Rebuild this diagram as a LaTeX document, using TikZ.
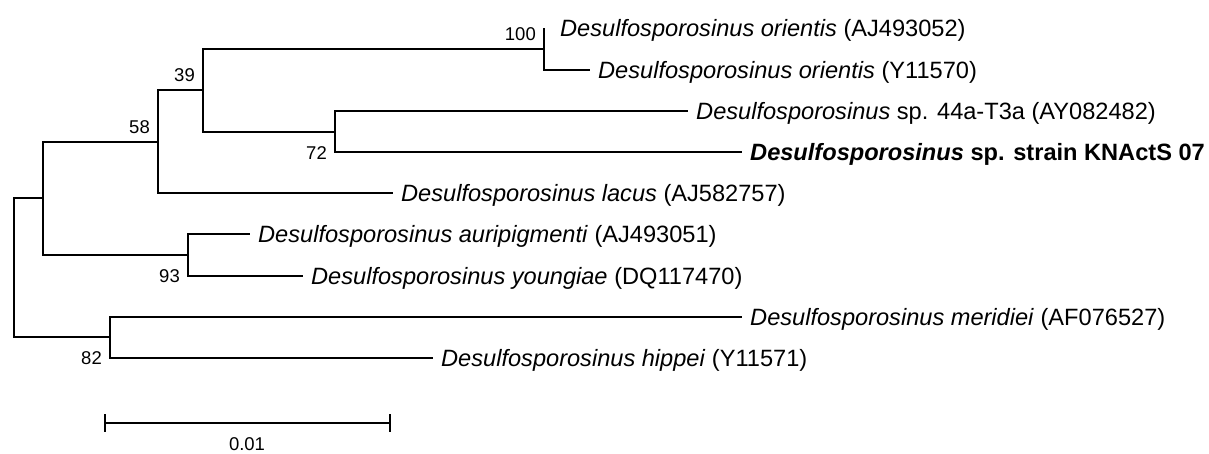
\documentclass[tikz,border=0pt]{standalone}
\usepackage{fontspec}
\setmainfont{Liberation Sans}
\usetikzlibrary{positioning}
\tikzset{
  branch/.style={line width=1.9pt},
  leaf/.style={anchor=base west, inner sep=0pt, xshift=8pt, yshift=-8pt, font=\fontsize{23.6}{28}\selectfont},
  boot/.style={anchor=base east, inner sep=0pt, font=\fontsize{18.5}{22}\selectfont},
  bootabove/.style={boot, xshift=-8pt, yshift=9pt},
  bootbelow/.style={boot, xshift=-8pt, yshift=-27pt}
}
\newcommand{\Dsp}{\textit{Desulfosporosinus}}

\begin{document}
\begin{tikzpicture}[x=1pt,y=-1pt]
\useasboundingbox (0,0) rectangle (1209,453);
\coordinate (root) at (14,268);
\coordinate (nA) at (43,198);
\coordinate (n58) at (158,142);
\coordinate (n39) at (203,90);
\coordinate (n100) at (544,49);
\coordinate (n72) at (335,132);
\coordinate (n93) at (188,255);
\coordinate (n82) at (110,337);
\coordinate (tip1) at (544,28);
\coordinate (tip2) at (590,70);
\coordinate (tip3) at (688,111);
\coordinate (tip4) at (742,152);
\coordinate (tip5) at (393,193);
\coordinate (tip6) at (250,234);
\coordinate (tip7) at (303,276);
\coordinate (tip8) at (742,317);
\coordinate (tip9) at (433,358);
\draw[branch] (root) |- (nA) (root) |- (n82);
\draw[branch] (nA) |- (n58) (nA) |- (n93);
\draw[branch] (n58) |- (n39) (n58) |- (tip5);
\draw[branch] (n39) |- (n100) (n39) |- (n72);
\draw[branch] (n100) |- (tip1) (n100) |- (tip2);
\draw[branch] (n72) |- (tip3) (n72) |- (tip4);
\draw[branch] (n93) |- (tip6) (n93) |- (tip7);
\draw[branch] (n82) |- (tip8) (n82) |- (tip9);
\node[leaf, xshift=8pt] (t1) at (tip1) {\Dsp\ \textit{orientis} (AJ493052)};
\node[leaf] (t2) at (tip2) {\Dsp\ \textit{orientis} (Y11570)};
\node[leaf] (t3) at (tip3) {\Dsp\ sp. 44a-T3a (AY082482)};
\node[leaf] (t4) at (tip4) {\bfseries\Dsp\ sp. strain KNActS 07};
\node[leaf] (t5) at (tip5) {\Dsp\ \textit{lacus} (AJ582757)};
\node[leaf] (t6) at (tip6) {\Dsp\ \textit{auripigmenti} (AJ493051)};
\node[leaf] (t7) at (tip7) {\Dsp\ \textit{youngiae} (DQ117470)};
\node[leaf] (t8) at (tip8) {\Dsp\ \textit{meridiei} (AF076527)};
\node[leaf] (t9) at (tip9) {\Dsp\ \textit{hippei} (Y11571)};
\node[bootabove] (b100) at (n100) {100};
\node[bootabove] (b39) at (n39) {39};
\node[bootabove] (b58) at (n58) {58};
\node[bootbelow] (b72) at (n72) {72};
\node[bootbelow] (b93) at (n93) {93};
\node[bootbelow] (b82) at (n82) {82};
\coordinate (s0) at (105,423);
\coordinate (s1) at (390,423);
\draw[branch] (s0) -- (s1);
\draw[branch] ([yshift=9pt]s0) -- ([yshift=-9pt]s0);
\draw[branch] ([yshift=9pt]s1) -- ([yshift=-9pt]s1);
\node[boot, anchor=base] (sl) at (247,450) {0.01};
\end{tikzpicture}
\end{document}
